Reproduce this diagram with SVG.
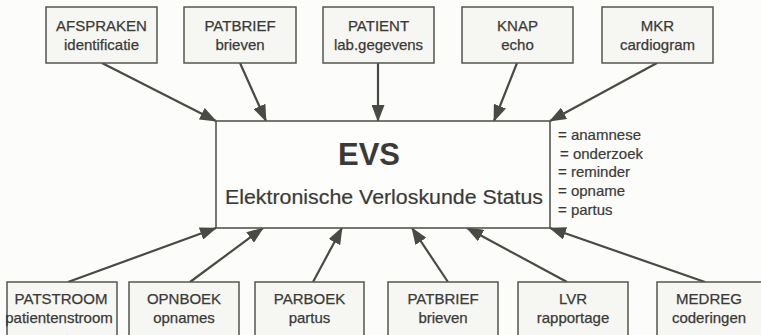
<svg xmlns="http://www.w3.org/2000/svg" width="761" height="335" viewBox="0 0 761 335">
<defs>
<style>
.bg{fill:#fcfcfa}
.box{fill:#f6f6f2;stroke:#55554f;stroke-width:1.5}
.main{fill:#fdfdfb;stroke:#55554f;stroke-width:1.6}
.t{font-family:"Liberation Sans",Arial,sans-serif;font-size:15px;fill:#3a3a37;stroke:#3a3a37;stroke-width:0.25;text-anchor:middle}
.lst{font-family:"Liberation Sans",Arial,sans-serif;font-size:15px;fill:#3a3a37;stroke:#3a3a37;stroke-width:0.2}
.con{stroke:#4a4a45;stroke-width:2.2;fill:none;marker-end:url(#ah)}
</style>
<marker id="ah" markerUnits="userSpaceOnUse" markerWidth="17" markerHeight="13" refX="16" refY="6.5" orient="auto" viewBox="0 0 17 13">
<path d="M0,0 L17,6.5 L0,13 Z" fill="#4a4a45"/>
</marker>
</defs>
<rect class="bg" x="0" y="0" width="761" height="335"/>
<g id="connectors">
<line class="con" x1="102" y1="63" x2="216" y2="121"/>
<line class="con" x1="240" y1="63" x2="266" y2="121"/>
<line class="con" x1="378" y1="63" x2="378" y2="121"/>
<line class="con" x1="517" y1="63" x2="494" y2="121"/>
<line class="con" x1="657" y1="63" x2="550" y2="121"/>
<line class="con" x1="68" y1="282" x2="216" y2="228"/>
<line class="con" x1="190" y1="282" x2="263" y2="228"/>
<line class="con" x1="313" y1="282" x2="342" y2="228"/>
<line class="con" x1="448" y1="282" x2="412" y2="228"/>
<line class="con" x1="567" y1="282" x2="467" y2="228"/>
<line class="con" x1="705" y1="282" x2="550" y2="228"/>
</g>
<g id="evs">
<rect class="main" x="216" y="121" width="334" height="107"/>
<text x="369" y="165" font-family="'Liberation Sans',Arial,sans-serif" font-size="31" font-weight="bold" fill="#3a3a37" text-anchor="middle">EVS</text>
<text x="384" y="204" font-family="'Liberation Sans',Arial,sans-serif" font-size="20" fill="#3a3a37" stroke="#3a3a37" stroke-width="0.2" text-anchor="middle" textLength="318" lengthAdjust="spacingAndGlyphs">Elektronische Verloskunde Status</text>
</g>
<g id="evs-list">
<text class="lst" x="558" y="140">= anamnese</text>
<text class="lst" x="560" y="159">= onderzoek</text>
<text class="lst" x="558" y="177">= reminder</text>
<text class="lst" x="558" y="196">= opname</text>
<text class="lst" x="558" y="215">= partus</text>
</g>
<g id="afspraken">
<rect class="box" x="46" y="7" width="111" height="56"/>
<text class="t" x="101.5" y="31">AFSPRAKEN</text>
<text class="t" x="101.5" y="50">identificatie</text>
</g>
<g id="patbrief-top">
<rect class="box" x="184" y="7" width="112" height="56"/>
<text class="t" x="240" y="31">PATBRIEF</text>
<text class="t" x="240" y="50">brieven</text>
</g>
<g id="patient">
<rect class="box" x="323" y="7" width="111" height="56"/>
<text class="t" x="378.5" y="31">PATIENT</text>
<text class="t" x="378.5" y="50">lab.gegevens</text>
</g>
<g id="knap">
<rect class="box" x="462" y="7" width="111" height="56"/>
<text class="t" x="517.5" y="31">KNAP</text>
<text class="t" x="517.5" y="50">echo</text>
</g>
<g id="mkr">
<rect class="box" x="602" y="7" width="111" height="56"/>
<text class="t" x="657.5" y="31">MKR</text>
<text class="t" x="657.5" y="50">cardiogram</text>
</g>
<g id="patstroom">
<rect class="box" x="7" y="282" width="110" height="60"/>
<text class="t" x="61" y="304">PATSTROOM</text>
<text class="t" x="59" y="323">patientenstroom</text>
</g>
<g id="opnboek">
<rect class="box" x="129" y="282" width="110" height="60"/>
<text class="t" x="184" y="304">OPNBOEK</text>
<text class="t" x="184" y="323">opnames</text>
</g>
<g id="parboek">
<rect class="box" x="255" y="282" width="109" height="60"/>
<text class="t" x="309.5" y="304">PARBOEK</text>
<text class="t" x="309.5" y="323">partus</text>
</g>
<g id="patbrief-bottom">
<rect class="box" x="388" y="282" width="110" height="60"/>
<text class="t" x="443" y="304">PATBRIEF</text>
<text class="t" x="443" y="323">brieven</text>
</g>
<g id="lvr">
<rect class="box" x="518" y="282" width="110" height="60"/>
<text class="t" x="573" y="304">LVR</text>
<text class="t" x="573" y="323">rapportage</text>
</g>
<g id="medreg">
<rect class="box" x="657" y="282" width="110" height="60"/>
<text class="t" x="709" y="304">MEDREG</text>
<text class="t" x="709" y="323">coderingen</text>
</g>
</svg>
